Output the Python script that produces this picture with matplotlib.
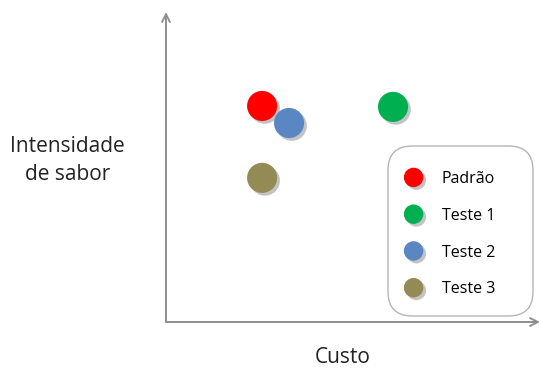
import matplotlib as mpl
mpl.use('Agg')
import matplotlib.pyplot as plt
import matplotlib.patheffects as pe
from matplotlib.lines import Line2D
from matplotlib.patches import FancyBboxPatch

plt.rcParams['font.family'] = ['Open Sans', 'DejaVu Sans']

# samples: custo (x) and intensidade de sabor (y), arbitrary 0-10 scale
labels = ['Padrão', 'Teste 1', 'Teste 2', 'Teste 3']
custo = [2.57, 6.07, 3.29, 2.57]
intensidade = [6.97, 6.94, 6.42, 4.65]
colors = ['#FF0000', '#00B050', '#5A86C3', '#948A54']

fig = plt.figure(figsize=(5.4, 3.69), dpi=100)
ax = fig.add_axes([0.3074, 0.1274, 0.6926, 0.840])
ax.set_xlim(0, 10)
ax.set_ylim(0, 10)
for s in ax.spines.values():
    s.set_visible(False)
ax.set_xticks([])
ax.set_yticks([])

shadow = [pe.SimplePatchShadow(offset=(2, -2), shadow_rgbFace='#555555', alpha=0.35), pe.Normal()]
for i in range(len(labels)):
    ax.scatter(custo[i], intensidade[i], s=470, color=colors[i], zorder=3 + i,
               linewidths=0, path_effects=shadow)

# axes arrows
arrow = dict(arrowstyle='->', color='#8f8f8f', lw=1.4, mutation_scale=14, shrinkA=0, shrinkB=0)
ax.annotate('', xy=(0, 1), xytext=(0, 0), xycoords='axes fraction', arrowprops=arrow)
ax.annotate('', xy=(1, 0), xytext=(0, 0), xycoords='axes fraction', arrowprops=arrow)

# legend box (rounded) drawn separately
box = FancyBboxPatch((388 / 540, 1 - 316 / 369), 145 / 540, 170 / 369,
                     boxstyle='round,pad=0,rounding_size=0.045', transform=fig.transFigure,
                     facecolor='white', edgecolor='#b5b5b5', lw=1.0, mutation_aspect=540 / 369)
fig.add_artist(box)

handles = [Line2D([], [], marker='o', linestyle='', markersize=14, markerfacecolor=c,
                  markeredgewidth=0, path_effects=shadow) for c in colors]
leg = fig.legend(handles, labels, loc='upper left', bbox_to_anchor=(404 / 540, 1 - 171 / 369),
                 fontsize=11.5, frameon=False, labelspacing=1.3, borderpad=0,
                 handlelength=1.2, handletextpad=1.15, borderaxespad=0)
leg.set_zorder(5)

fig.text(0.125, 0.566, 'Intensidade\nde sabor', ha='center', va='center',
         fontsize=15, linespacing=1.45, color='#222222')
fig.text(0.635, 0.032, 'Custo', ha='center', va='center', fontsize=15, color='#222222')

fig.savefig('out.png')
